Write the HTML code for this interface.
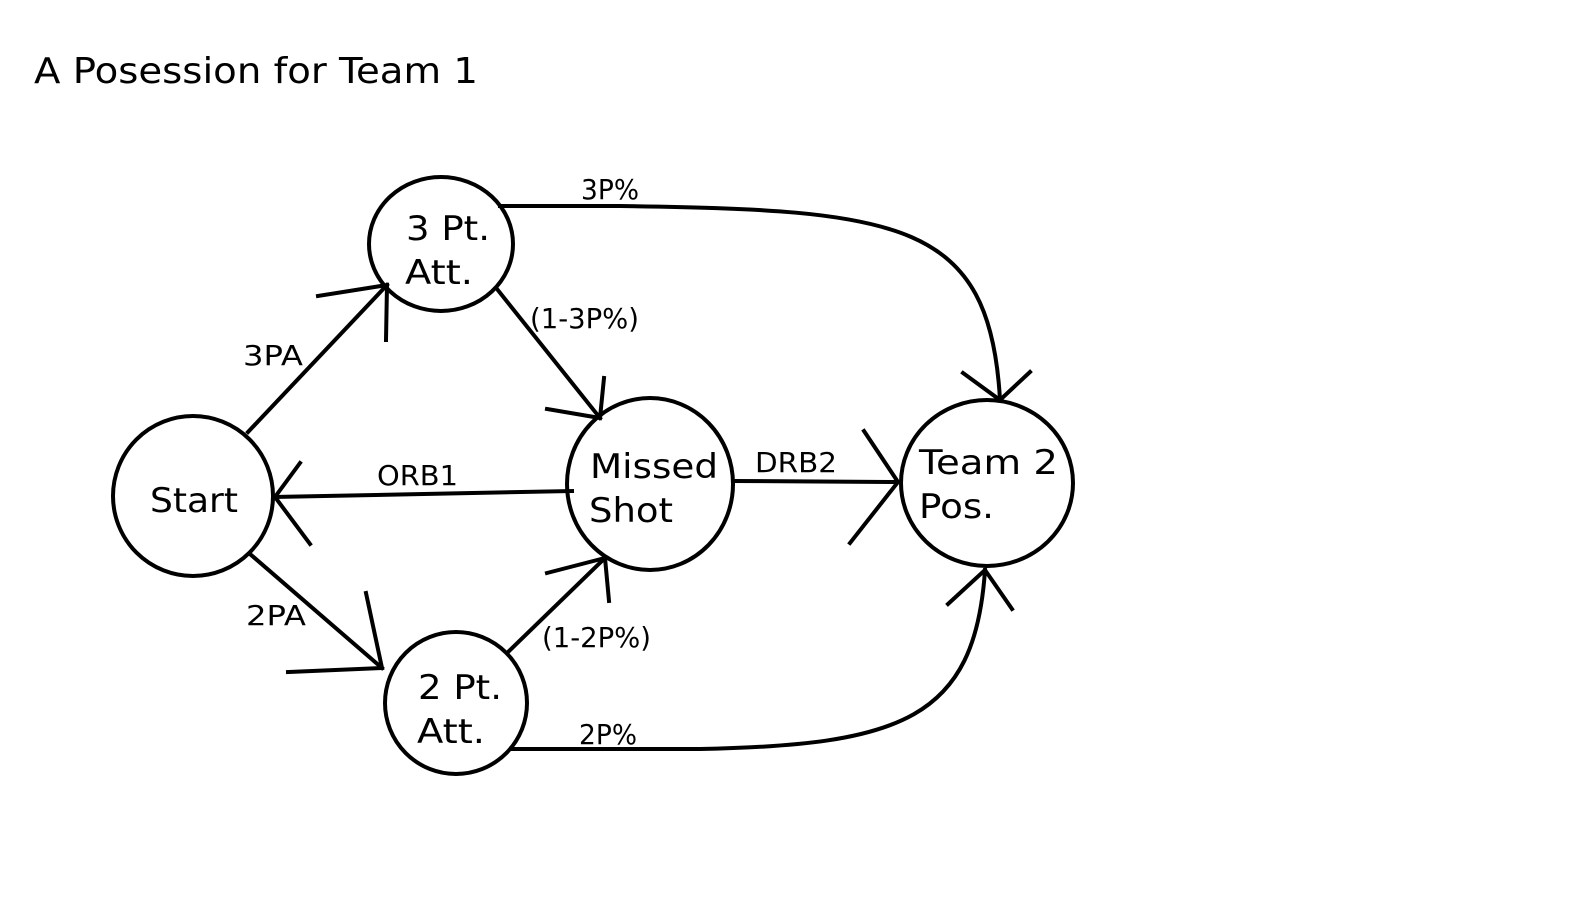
<!DOCTYPE html>
<html><head><meta charset="utf-8"><style>
html,body{margin:0;padding:0;background:#fff;}
svg{display:block;}
text{font-family:"DejaVu Sans","Liberation Sans",sans-serif;fill:#000;}
</style></head><body>
<svg width="1589" height="922" viewBox="0 0 1589 922" xmlns="http://www.w3.org/2000/svg">
<rect width="1589" height="922" fill="#fff"/>
<text x="34" y="83" font-size="36" textLength="444" lengthAdjust="spacingAndGlyphs">A Posession for Team 1</text>
<g fill="none" stroke="#000" stroke-width="4" stroke-linecap="square">
<ellipse cx="193" cy="496" rx="80" ry="80"/>
<ellipse cx="441" cy="244" rx="72" ry="67"/>
<ellipse cx="650" cy="484" rx="83" ry="86"/>
<ellipse cx="987" cy="483" rx="86" ry="83"/>
<ellipse cx="456" cy="703" rx="71" ry="71"/>
<line x1="248" y1="432" x2="387" y2="285"/>
<polyline points="318,296 387,285 386,340"/>
<line x1="497" y1="289" x2="600" y2="418"/>
<polyline points="547,409 600,418 604,378"/>
<path d="M500,206 L620,206 C900,210 990,220 1000,400"/>
<polyline points="963,373 1000,400 1030,372"/>
<line x1="572" y1="491" x2="275" y2="497"/>
<polyline points="300,463 275,497 310,544"/>
<line x1="733" y1="481" x2="898" y2="482"/>
<polyline points="864,431 898,482 850,543"/>
<line x1="250" y1="554" x2="382" y2="668"/>
<polyline points="366,593 382,668 288,672"/>
<line x1="507" y1="653" x2="605" y2="558"/>
<polyline points="547,573 605,558 609,601"/>
<path d="M512,749 L700,749 C900,745 975,720 985,570"/>
<polyline points="948,604 985,570 1012,609"/>
</g>
<g font-size="34">
<text x="150" y="512" textLength="88" lengthAdjust="spacingAndGlyphs">Start</text>
<text x="406" y="240" textLength="84" lengthAdjust="spacingAndGlyphs">3 Pt.</text>
<text x="405" y="284" textLength="68" lengthAdjust="spacingAndGlyphs">Att.</text>
<text x="590" y="478" textLength="128" lengthAdjust="spacingAndGlyphs">Missed</text>
<text x="589" y="522" textLength="84" lengthAdjust="spacingAndGlyphs">Shot</text>
<text x="919" y="474" textLength="139" lengthAdjust="spacingAndGlyphs">Team 2</text>
<text x="919" y="518" textLength="75" lengthAdjust="spacingAndGlyphs">Pos.</text>
<text x="418" y="699" textLength="84" lengthAdjust="spacingAndGlyphs">2 Pt.</text>
<text x="417" y="743" textLength="68" lengthAdjust="spacingAndGlyphs">Att.</text>
</g>
<g font-size="28">
<text x="581" y="199" textLength="58" lengthAdjust="spacingAndGlyphs">3P%</text>
<text x="530" y="328" textLength="109" lengthAdjust="spacingAndGlyphs">(1-3P%)</text>
<text x="243" y="365" textLength="60" lengthAdjust="spacingAndGlyphs">3PA</text>
<text x="377" y="485" textLength="81" lengthAdjust="spacingAndGlyphs">ORB1</text>
<text x="755" y="472" textLength="82" lengthAdjust="spacingAndGlyphs">DRB2</text>
<text x="246" y="625" textLength="60" lengthAdjust="spacingAndGlyphs">2PA</text>
<text x="542" y="647" textLength="109" lengthAdjust="spacingAndGlyphs">(1-2P%)</text>
<text x="579" y="744" textLength="58" lengthAdjust="spacingAndGlyphs">2P%</text>
</g>
</svg>
</body></html>
